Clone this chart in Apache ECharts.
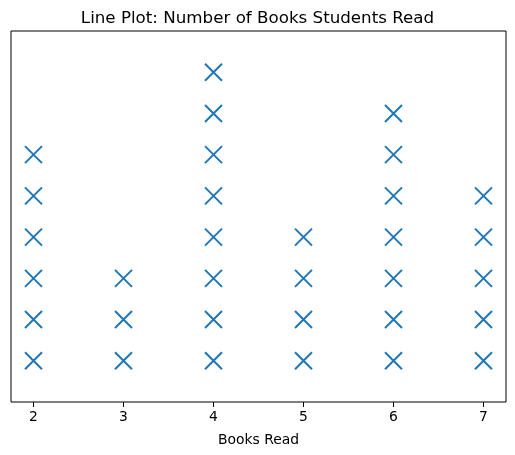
<!DOCTYPE html>
<html>
<head>
<meta charset="utf-8">
<script src="https://cdn.jsdelivr.net/npm/echarts@6/dist/echarts.min.js"></script>
<style>
  html, body { margin: 0; padding: 0; background: #fff; }
  #chart { width: 515px; height: 455px; }
</style>
</head>
<body>
<div id="chart"></div>
<script>
const books = [2, 3, 4, 5, 6, 7];
const students = [6, 3, 8, 4, 7, 5];
const xTicks = [2, 3, 4, 5, 6, 7];

// one X per student, stacked from 1 up to the count
const points = [];
books.forEach((b, i) => {
  for (let k = 1; k <= students[i]; k++) points.push([b, k]);
});

const font = 'DejaVu Sans';
const chart = echarts.init(document.getElementById('chart'), null, { renderer: 'canvas' });
chart.setOption({
  animation: false,
  title: {
    text: 'Line Plot: Number of Books Students Read',
    left: 'center',
    top: 5,
    textStyle: { fontFamily: font, fontSize: 16.7, fontWeight: 'normal', color: '#000' },
  },
  grid: {
    left: 11,
    right: 9,
    top: 31,
    bottom: 53,
    show: true,
    borderColor: '#000',
    borderWidth: 1,
  },
  xAxis: {
    type: 'value',
    min: 1.75,
    max: 7.25,
    splitLine: { show: false },
    axisLine: { show: false },
    axisTick: { show: true, length: 5, lineStyle: { color: '#000' }, customValues: xTicks },
    axisLabel: {
      customValues: xTicks,
      color: '#000',
      fontFamily: font,
      fontSize: 13.9,
      margin: 8,
    },
    name: 'Books Read',
    nameLocation: 'middle',
    nameGap: 31,
    nameTextStyle: { fontFamily: font, fontSize: 13.9, color: '#000' },
  },
  yAxis: {
    type: 'value',
    min: 0,
    max: 9,
    splitLine: { show: false },
    axisLine: { show: false },
    axisTick: { show: false },
    axisLabel: { show: false },
  },
  series: [{
    type: 'scatter',
    data: points,
    symbol: 'path://M0,0L10,10M10,0L0,10',
    symbolSize: 17,
    itemStyle: { color: 'none', borderColor: '#1f77b4', borderWidth: 2, opacity: 1 },
  }],
});
</script>
</body>
</html>
